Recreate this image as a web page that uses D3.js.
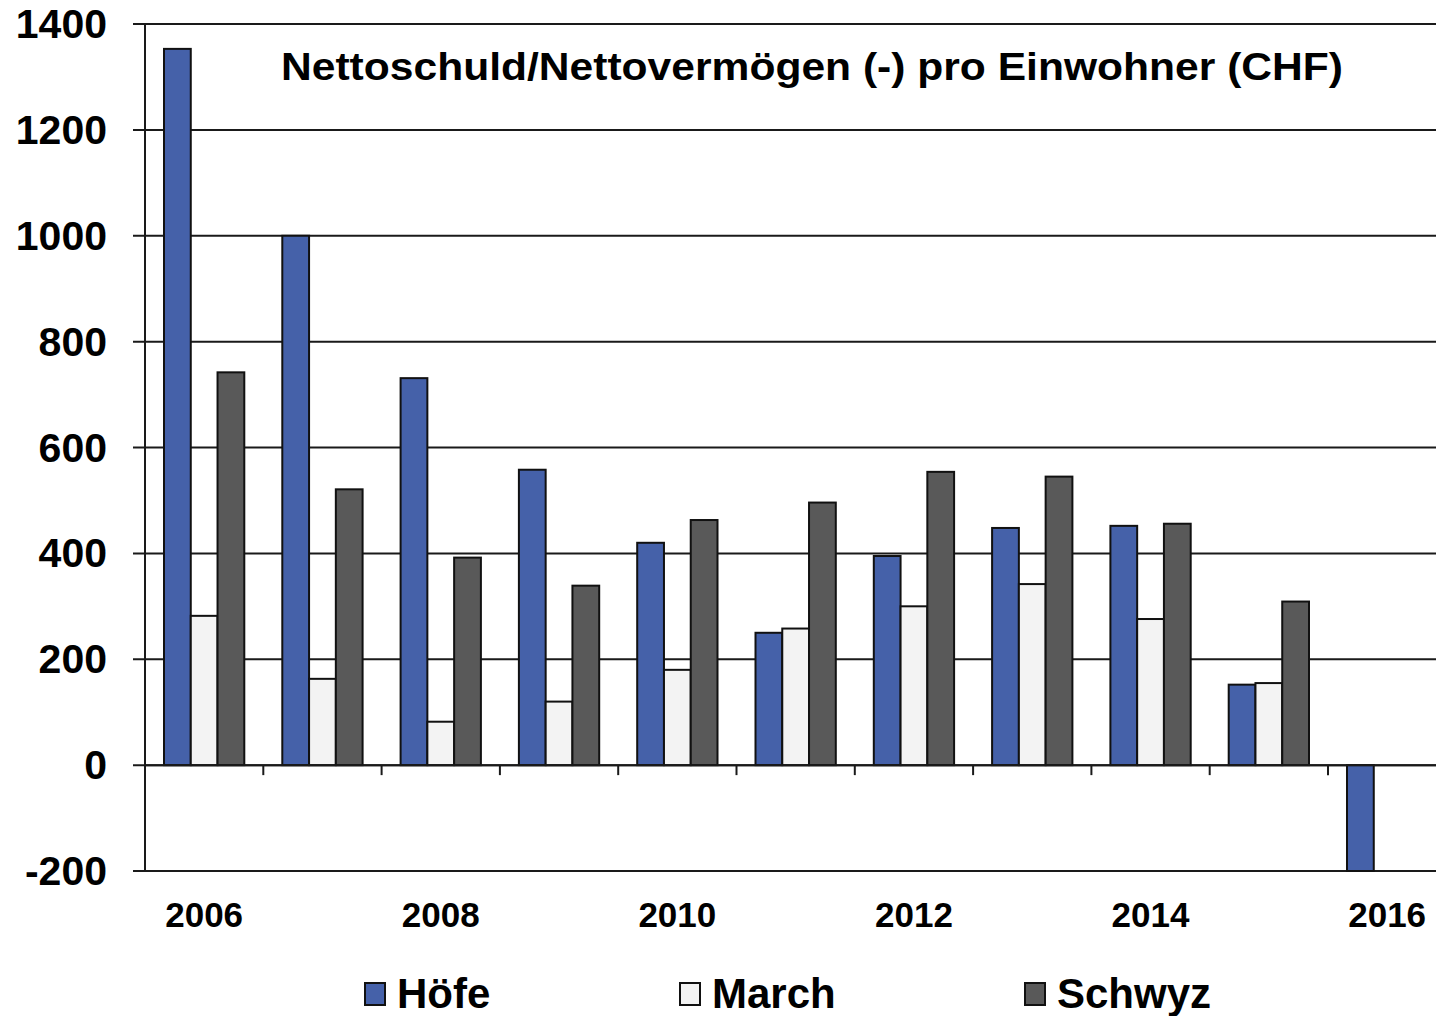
<!DOCTYPE html>
<html>
<head>
<meta charset="utf-8">
<script src="https://cdn.jsdelivr.net/npm/d3@7/dist/d3.min.js"></script>
<style>
  html, body { margin: 0; padding: 0; background: #fff; overflow: hidden; }
  svg { display: block; font-family: "Liberation Sans", Arial, sans-serif; font-weight: bold; }
</style>
</head>
<body>
<svg id="chart" width="1436" height="1016"></svg>
<script>
const years = ["2006","2007","2008","2009","2010","2011","2012","2013","2014","2015","2016"];
const yearLabels = ["2006","2008","2010","2012","2014","2016"];
const seriesNames = ["Höfe", "March", "Schwyz"];
const hoefe  = [1353, 1000, 731, 558, 420, 250, 395, 448, 452, 152, -200];
const march  = [282, 163, 82, 120, 180, 258, 300, 342, 276, 155, null];
const schwyz = [742, 521, 392, 339, 463, 496, 554, 545, 456, 309, null];
const yTicks = [-200, 0, 200, 400, 600, 800, 1000, 1200, 1400];
const colors = ["#4561a9", "#f3f3f3", "#595959"];
const title = "Nettoschuld/Nettovermögen (-) pro Einwohner (CHF)";

const values = [hoefe, march, schwyz];
const svg = d3.select("#chart");

const left = 145, bandW = 118.3;
const x = d3.scaleBand().domain(years).range([left, left + bandW * years.length]).padding(0);
const x1 = d3.scaleBand().domain(seriesNames).range([19, bandW - 19]).padding(0);
const y = d3.scaleLinear().domain([-200, 1400]).range([871, 24]);

// gridlines
svg.append("g").selectAll("line").data(yTicks).join("line")
  .attr("x1", left - 12).attr("x2", 1440)
  .attr("y1", d => y(d)).attr("y2", d => y(d))
  .attr("stroke", "#1a1a1a").attr("stroke-width", 2);

// y axis line
svg.append("line").attr("x1", left).attr("x2", left)
  .attr("y1", y(1400)).attr("y2", y(-200))
  .attr("stroke", "#1a1a1a").attr("stroke-width", 2);

// x ticks at zero line
const boundaries = years.map(d => x(d)).concat([x(years[years.length-1]) + x.bandwidth()]);
svg.append("g").selectAll("line").data(boundaries).join("line")
  .attr("x1", d => d).attr("x2", d => d)
  .attr("y1", y(0)).attr("y2", y(0) + 10)
  .attr("stroke", "#1a1a1a").attr("stroke-width", 2);

// bars
const barData = [];
years.forEach((yr, i) => {
  seriesNames.forEach((s, j) => {
    const v = values[j][i];
    if (v !== null) barData.push({yr, s, v, c: colors[j]});
  });
});
svg.append("g").selectAll("rect").data(barData).join("rect")
  .attr("x", d => x(d.yr) + x1(d.s))
  .attr("width", x1.bandwidth())
  .attr("y", d => Math.min(y(d.v), y(0)))
  .attr("height", d => Math.abs(y(d.v) - y(0)))
  .attr("fill", d => d.c)
  .attr("stroke", "#111").attr("stroke-width", 2);

// zero line
svg.append("line").attr("x1", left).attr("x2", 1440)
  .attr("y1", y(0)).attr("y2", y(0))
  .attr("stroke", "#1a1a1a").attr("stroke-width", 2);

// y labels
svg.append("g").selectAll("text").data(yTicks).join("text")
  .attr("x", 107).attr("y", d => y(d) + 14)
  .attr("text-anchor", "end")
  .attr("font-size", 41)
  .text(d => d);

// x labels
svg.append("g").selectAll("text").data(yearLabels).join("text")
  .attr("x", d => x(d) + x.bandwidth() / 2)
  .attr("y", 927)
  .attr("text-anchor", "middle")
  .attr("font-size", 35)
  .text(d => d);

// title
svg.append("text").attr("x", 812).attr("y", 80)
  .attr("text-anchor", "middle").attr("font-size", 38)
  .attr("textLength", 1062).attr("lengthAdjust", "spacingAndGlyphs")
  .text(title);

// legend
const legendX = [365, 680, 1025];
const lg = svg.append("g").selectAll("g").data(seriesNames).join("g")
  .attr("transform", (d, i) => `translate(${legendX[i]},983)`);
lg.append("rect").attr("width", 20).attr("height", 22)
  .attr("fill", (d, i) => colors[i]).attr("stroke", "#111").attr("stroke-width", 2);
lg.append("text").attr("x", 32).attr("y", 25)
  .attr("font-size", 42).text(d => d);
</script>
</body>
</html>
